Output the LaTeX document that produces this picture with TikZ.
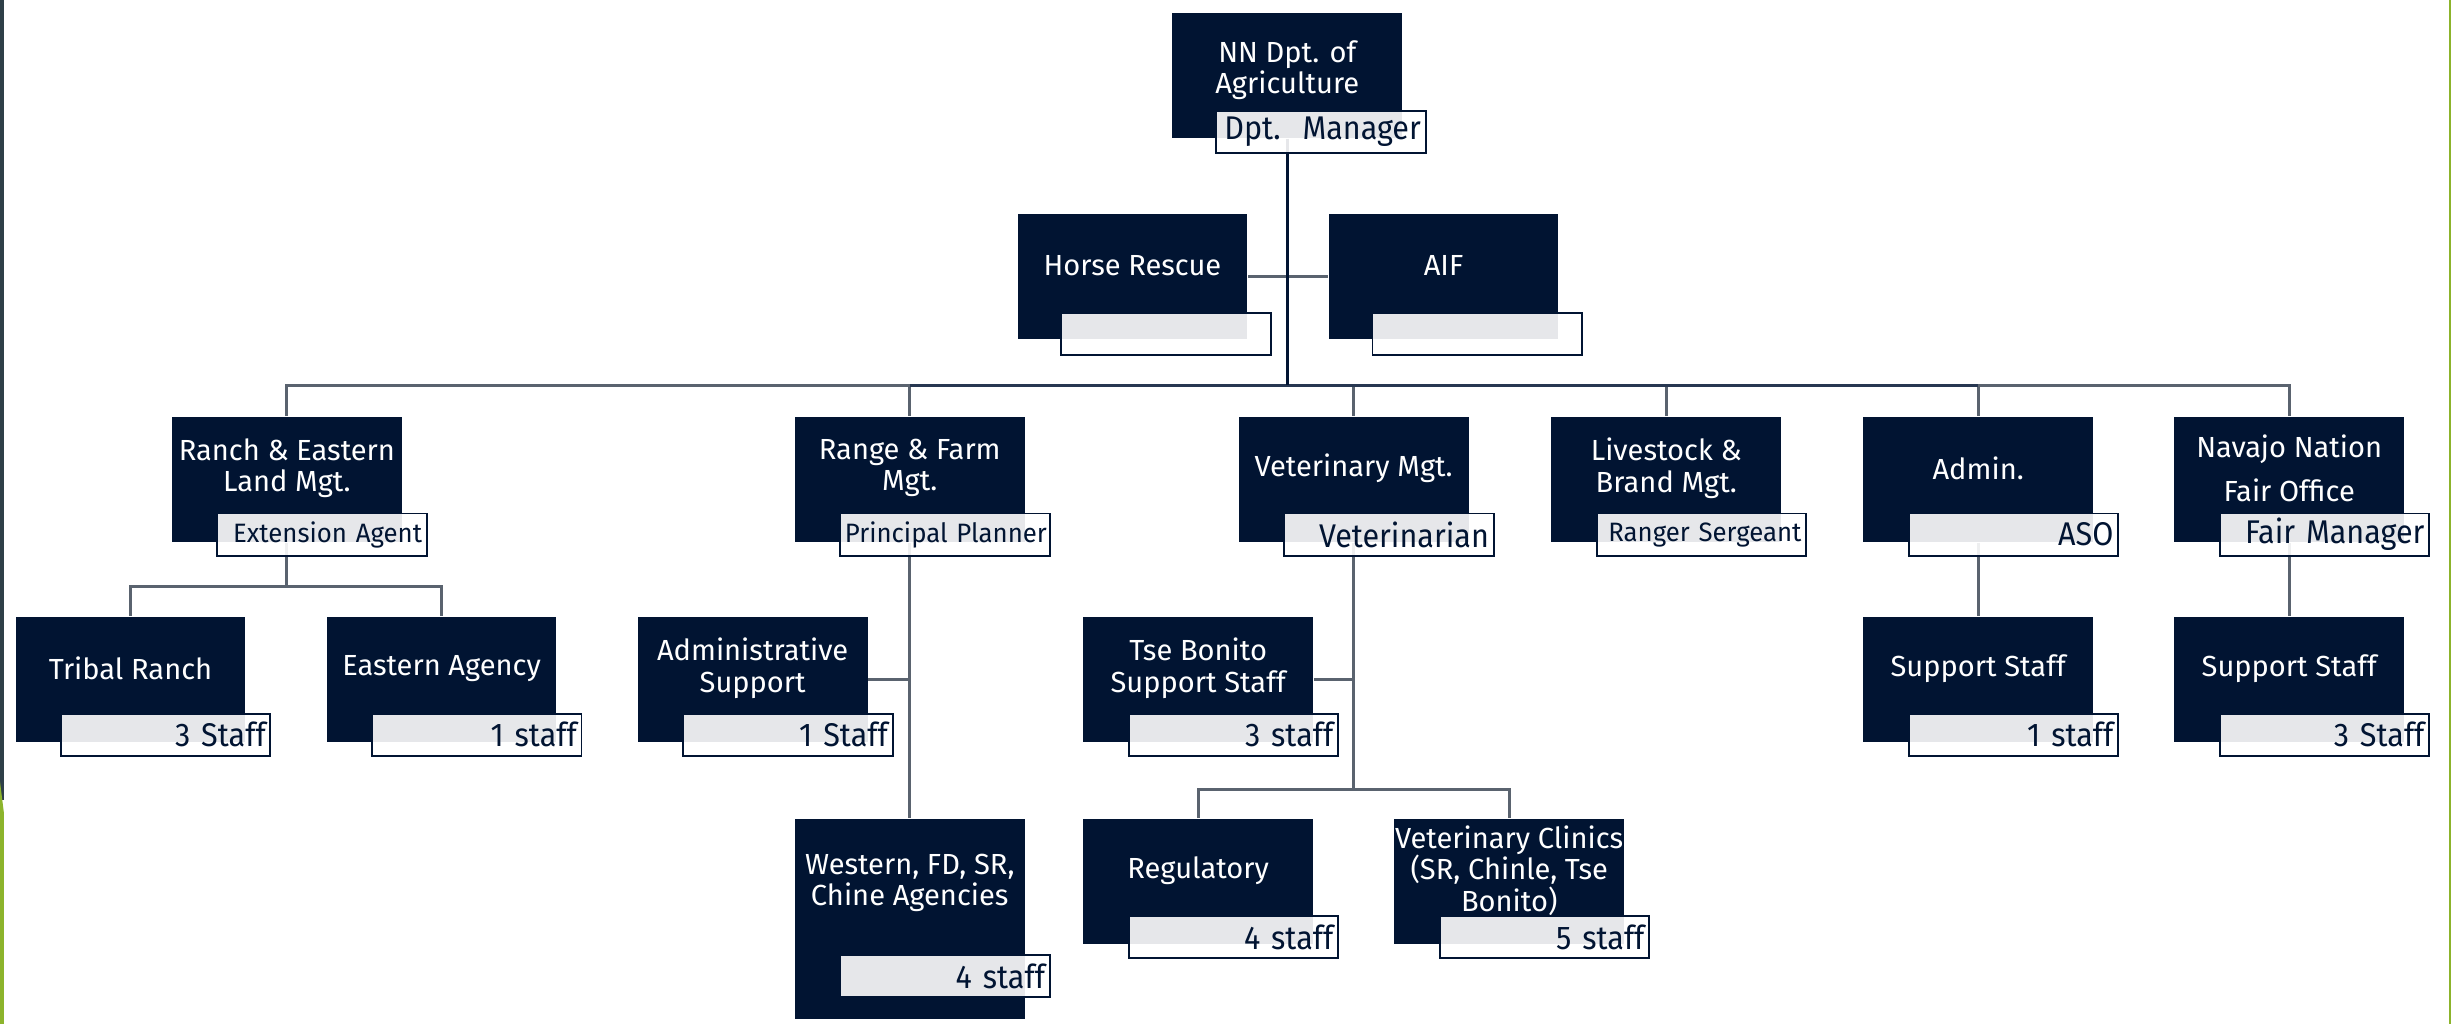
\documentclass[tikz,border=0pt]{standalone}
\usepackage{fontspec}
\setmainfont{Fira Sans}
\newfontfamily\tagfont{Fira Sans}[FakeStretch=0.93]
\newfontfamily\smalltagfont{Fira Sans}[FakeStretch=0.97]
\usepackage{xcolor}
\usetikzlibrary{positioning,calc,backgrounds}
\definecolor{navy}{HTML}{011432}
\definecolor{linkgrey}{HTML}{5A636F}
\definecolor{slate}{HTML}{2E3F48}
\definecolor{leaf}{HTML}{8CB42C}

\begin{document}
\begin{tikzpicture}[x=0.5pt,y=-0.5pt,semithick]
		\tikzstyle{unit}=[fill=navy,minimum width=73.5pt,minimum height=40pt,inner sep=0pt]
		\tikzstyle{utext}=[text=white,align=center,font=\fontsize{9.3}{10}\selectfont,yshift=3.5pt]
		\tikzstyle{tag}=[anchor=south east,draw=navy,line width=0.6pt,fill=white,fill opacity=0.9,text opacity=1,text=navy,text width=64pt,align=right,inner xsep=1.5pt,inner ysep=0pt,minimum height=13.5pt,font=\tagfont\fontsize{10.5}{11}\selectfont]
		\tikzstyle{smalltag}=[tag,font=\smalltagfont\fontsize{8.5}{9}\selectfont]
		\tikzstyle{link}=[draw=linkgrey,line width=0.9pt]
		\tikzstyle{trunk}=[draw=navy,line width=1.1pt]
		\useasboundingbox (0,0) rectangle (1568,655);
		% slide edges
		\fill[slate] (0,0) rectangle (2.5,512);
		\fill[leaf] (0,500) -- (2.5,520) -- (2.5,655) -- (0,655) -- cycle;
		\fill[leaf] (1566.5,0) rectangle (1568,655);
		% department head
		\node[unit] (top) at (823.5,48) {};
		\node[utext] (topT) at ($(top)+(0,4)$) {NN Dpt. of\\Agriculture};
		\node[tag] (topL) at ($(top.south east)+(15,10)$) {Dpt.\ \ Manager};
		\node[unit] (hr) at (724.5,177) {};
		\node[utext] (hrT) at (hr) {Horse Rescue};
		\node[tag] (hrL) at ($(hr.south east)+(15,10)$) {};
		\node[unit] (aif) at (923.5,177) {};
		\node[utext] (aifT) at (aif) {AIF};
		\node[tag] (aifL) at ($(aif.south east)+(15,10)$) {};
		% programs
		\node[unit] (ranch) at (183.5,306.5) {};
		\node[utext] (ranchT) at (ranch) {Ranch \& Eastern\\Land Mgt.};
		\node[smalltag] (ranchL) at ($(ranch.south east)+(16,9)$) {\mbox{Extension Agent}};
		\node[unit] (rng) at (582,306.5) {};
		\node[utext] (rngT) at (rng) {Range \& Farm\\Mgt.};
		\node[smalltag] (rngL) at ($(rng.south east)+(16,9)$) {\mbox{Principal Planner}};
		\node[unit] (vet) at (866,306.5) {};
		\node[utext] (vetT) at (vet) {Veterinary Mgt.};
		\node[tag] (vetL) at ($(vet.south east)+(16,9)$) {Veterinarian};
		\node[unit] (live) at (1066,306.5) {};
		\node[utext] (liveT) at (live) {Livestock \&\\Brand Mgt.};
		\node[smalltag] (liveL) at ($(live.south east)+(16,9)$) {\mbox{Ranger Sergeant}};
		\node[unit] (adm) at (1265.5,306.5) {};
		\node[utext] (admT) at (adm) {Admin.};
		\node[tag] (admL) at ($(adm.south east)+(16,9)$) {ASO};
		\node[unit] (nav) at (1464.5,306.5) {};
		\node[utext] (navT) at (nav) {Navajo Nation\\[4pt]Fair Office};
		\node[tag] (navL) at ($(nav.south east)+(16,9)$) {Fair Manager};
		% sections
		\node[unit] (tribal) at (83.5,434.5) {};
		\node[utext] (tribalT) at (tribal) {Tribal Ranch};
		\node[tag] (tribalL) at ($(tribal.south east)+(16,9)$) {3 Staff};
		\node[unit] (eastern) at (282.5,434.5) {};
		\node[utext] (easternT) at (eastern) {Eastern Agency};
		\node[tag] (easternL) at ($(eastern.south east)+(16,9)$) {1 staff};
		\node[unit] (admsup) at (481.5,434.5) {};
		\node[utext] (admsupT) at (admsup) {Administrative\\Support};
		\node[tag] (admsupL) at ($(admsup.south east)+(16,9)$) {1 Staff};
		\node[unit,minimum height=64pt] (west) at (582,588) {};
		\node[utext] (westT) at ($(west)+(0,-16)$) {Western, FD, SR,\\Chine Agencies};
		\node[tag] (westL) at ($(west.south east)+(16,-14)$) {4 staff};
		\node[unit] (tse) at (766.5,434.5) {};
		\node[utext] (tseT) at (tse) {Tse Bonito\\Support Staff};
		\node[tag] (tseL) at ($(tse.south east)+(16,9)$) {3 staff};
		\node[unit] (reg) at (766.5,564) {};
		\node[utext] (regT) at (reg) {Regulatory};
		\node[tag] (regL) at ($(reg.south east)+(16,9)$) {4 staff};
		\node[unit] (clin) at (965.5,564) {};
		\node[utext] (clinT) at (clin) {Veterinary Clinics\\(SR, Chinle, Tse\\Bonito)};
		\node[tag] (clinL) at ($(clin.south east)+(16,9)$) {5 staff};
		\node[unit] (admss) at (1265.5,434.5) {};
		\node[utext] (admssT) at (admss) {Support Staff};
		\node[tag] (admssL) at ($(admss.south east)+(16,9)$) {1 staff};
		\node[unit] (navss) at (1464.5,434.5) {};
		\node[utext] (navssT) at (navss) {Support Staff};
		\node[tag] (navssL) at ($(navss.south east)+(16,9)$) {3 Staff};
		% connectors
		\begin{scope}[on background layer]
		\coordinate (bus) at (823.5,246.5);
		\coordinate (ranchbus) at (183.5,375);
		\coordinate (vetbus) at (866,505);
		\draw[link] (hr) -- (aif);
		\draw[link] (ranch) |- (bus) -| (nav);
		\foreach \n in {rng,vet,live,adm} \draw[link] (\n) -- (\n |- bus);
		\draw[link] (ranch) -- (ranchbus);
		\draw[link] (tribal) |- (ranchbus) -| (eastern);
		\draw[link] (rng) -- (west);
		\draw[link] (admsup) -- (admsup -| rng);
		\draw[link] (vet) -- (vetbus);
		\draw[link] (reg) |- (vetbus) -| (clin);
		\draw[link] (tse) -- (tse -| vet);
		\draw[link] (adm) -- (admss);
		\draw[link] (nav) -- (navss);
		\draw[link,draw=navy!85] (rng |- bus) -- (adm |- bus);
		\draw[trunk] (top) -- (bus);
		\end{scope}
	\end{tikzpicture}
\end{document}
